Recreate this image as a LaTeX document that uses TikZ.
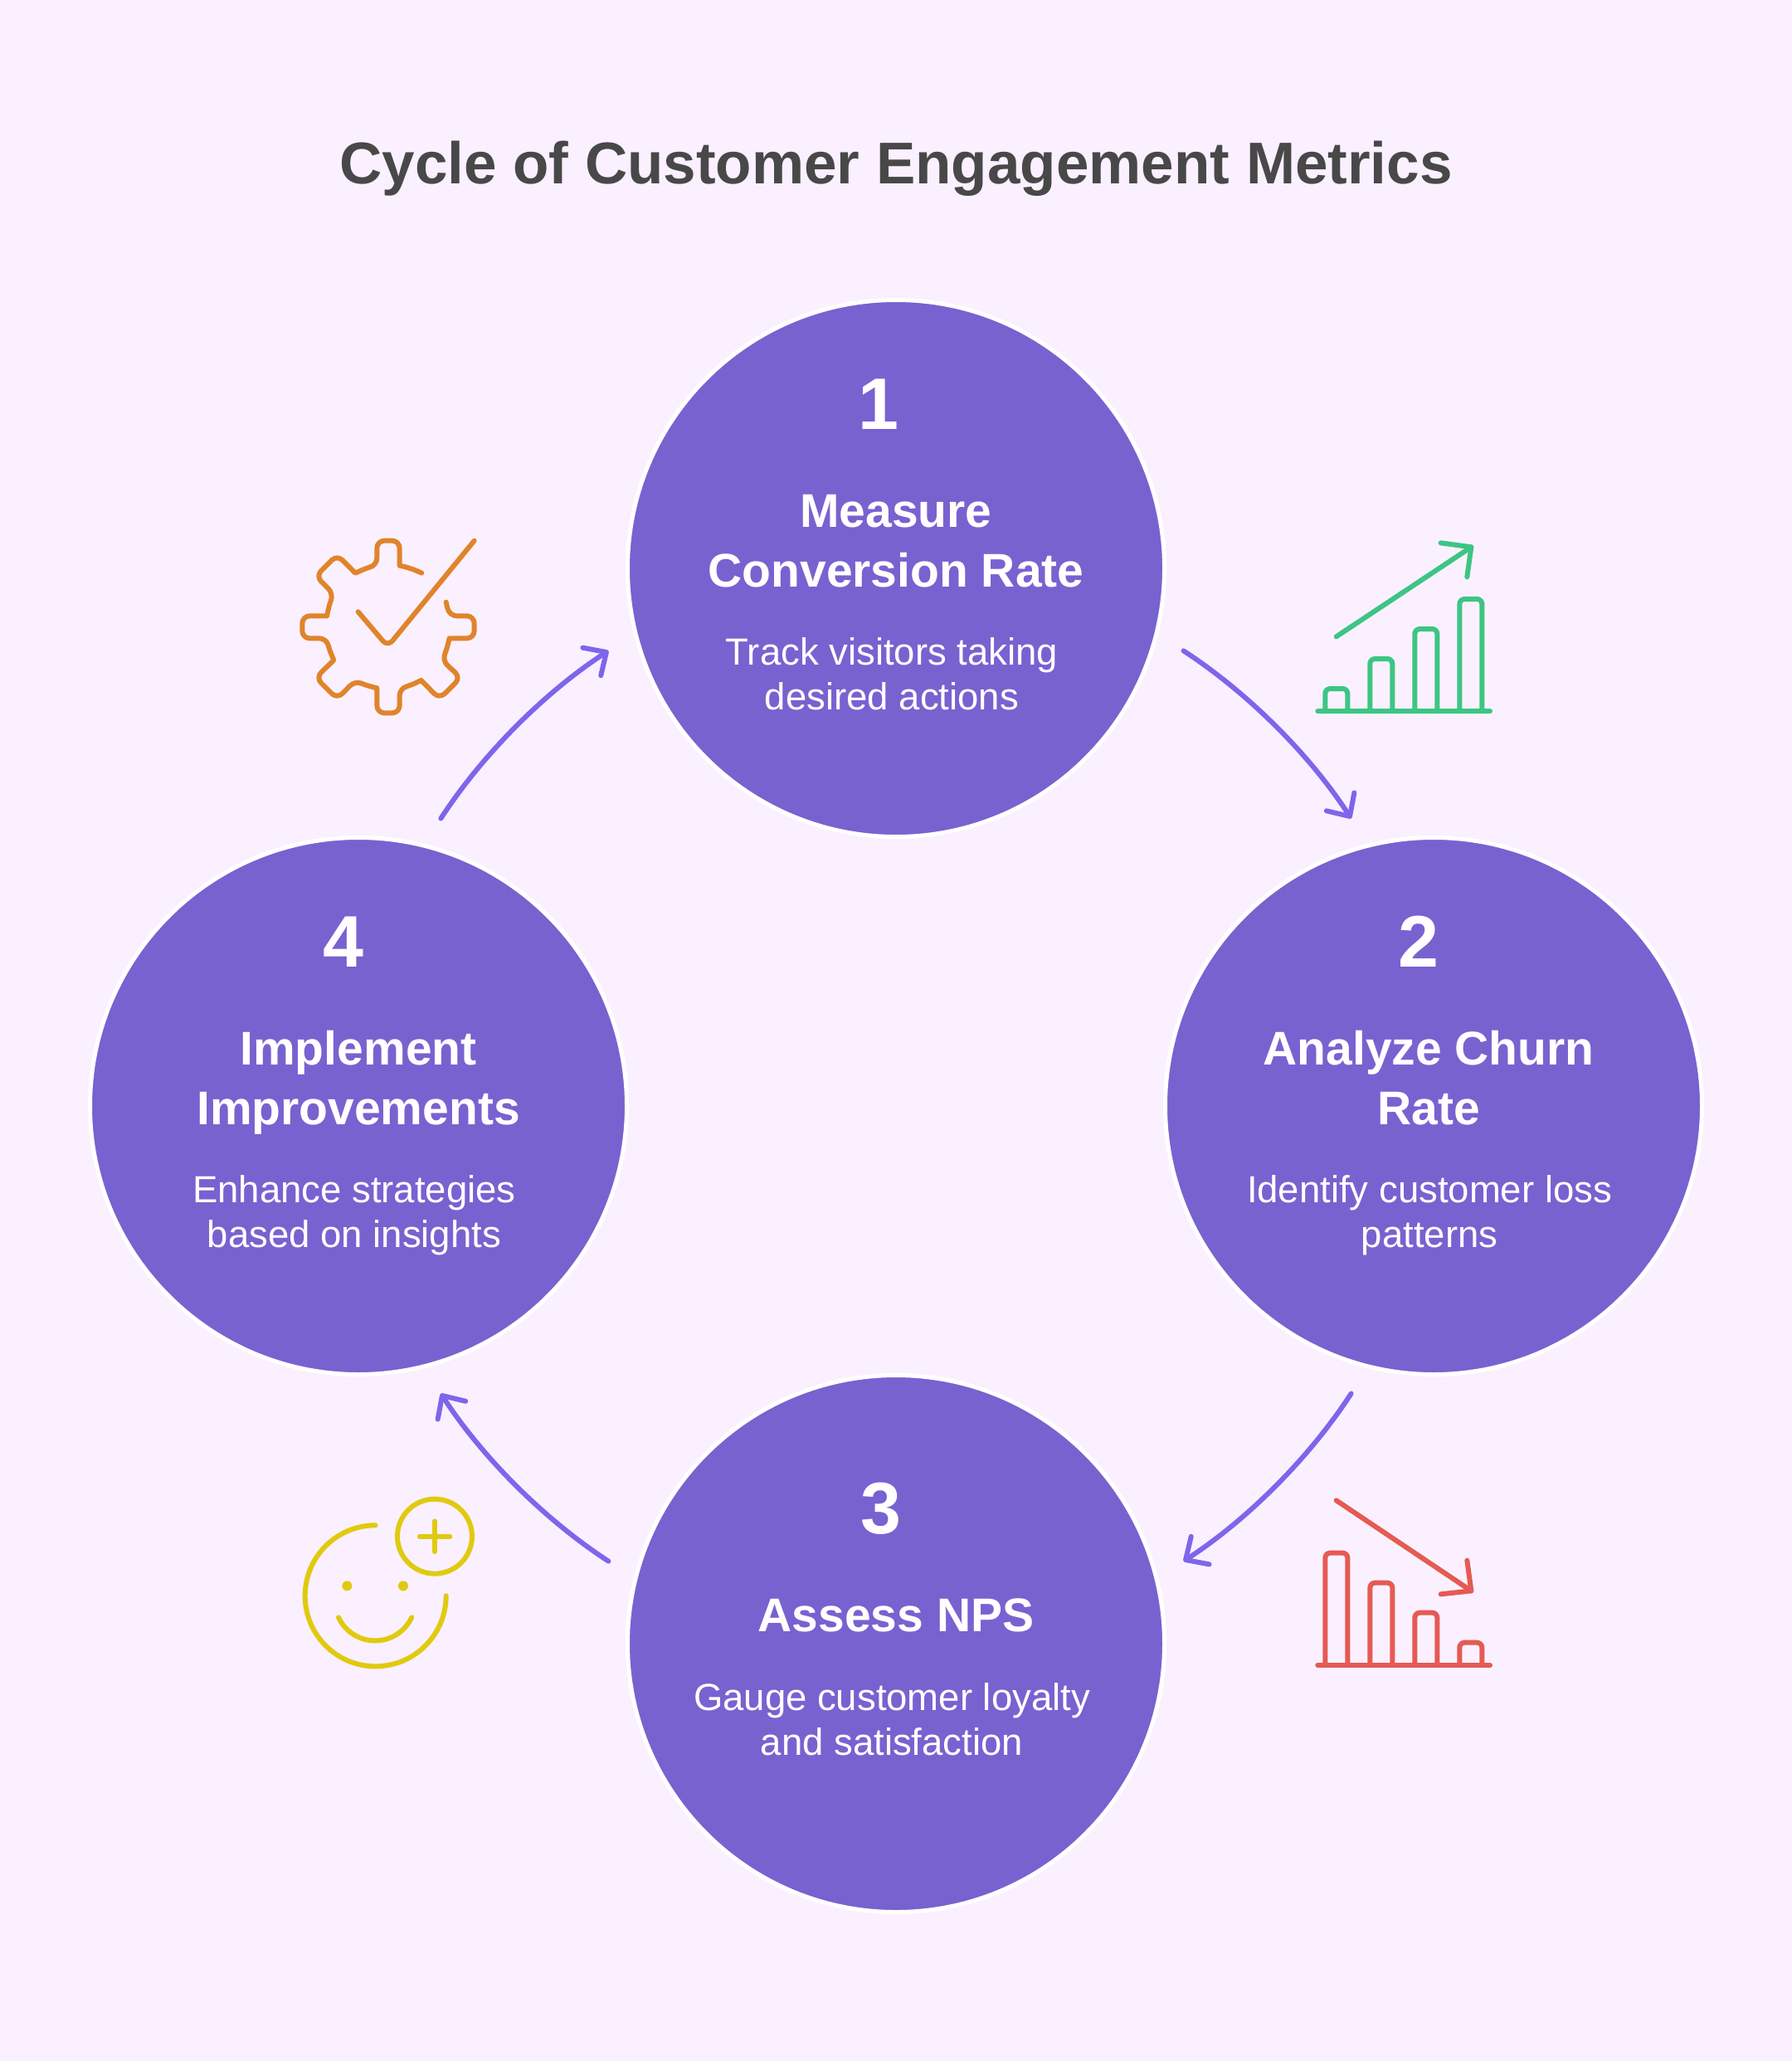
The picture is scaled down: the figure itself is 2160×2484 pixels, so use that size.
\documentclass[tikz,border=0pt]{standalone}
\usepackage{fontspec}
\setmainfont{Liberation Sans}
\usetikzlibrary{arrows.meta}
\definecolor{pagebg}{HTML}{FBF0FF}
\definecolor{circfill}{HTML}{7862D0}
\definecolor{arrowcol}{HTML}{7D66EA}
\definecolor{titlecol}{HTML}{484848}
\definecolor{gearcol}{HTML}{E0842C}
\definecolor{upcol}{HTML}{3CC583}
\definecolor{downcol}{HTML}{E55A54}
\definecolor{smilecol}{HTML}{E0CA10}
\begin{document}
\begin{tikzpicture}[x=1pt,y=-1pt]
    \tikzstyle{stage}=[circle,fill=circfill,draw=white,line width=5pt,minimum size=647pt,inner sep=0pt,outer sep=37pt]
    \tikzstyle{num}=[anchor=base,text=white,font=\fontsize{88}{88}\selectfont\bfseries]
    \tikzstyle{head}=[anchor=base,text=white,align=center,font=\fontsize{57}{72}\selectfont\bfseries]
    \tikzstyle{desc}=[anchor=base,text=white,align=center,font=\fontsize{45.5}{53.5}\selectfont]
    \tikzstyle{flow}=[draw=arrowcol,line width=6pt,line cap=round,-{Straight Barb[round,length=21pt,width=40pt]},bend left=12,looseness=.82]
    \tikzstyle{icon}=[line width=6pt,line cap=round,line join=round,x=1/3*1pt,y=-1/3*1pt]
    \fill[pagebg] (0,0) rectangle (2160,2484);
    \useasboundingbox (0,0) rectangle (2160,2484);

    \node[anchor=base,text=titlecol,font=\fontsize{71}{71}\selectfont\bfseries] (title) at (1080,221) {Cycle of Customer Engagement Metrics};

    \node[stage] (c1) at (1080,685) {};
    \node[stage] (c2) at (1728,1333) {};
    \node[stage] (c3) at (1080,1981) {};
    \node[stage] (c4) at (432,1333) {};

    \node[num] (num1) at (1059,517) {1};
    \node[head] (head1) at (1080,707) {Measure\\Conversion Rate};
    \node[desc] (desc1) at (1075,855) {Track visitors taking\\desired actions};

    \node[num] (num2) at (1710,1165) {2};
    \node[head] (head2) at (1722,1355) {Analyze Churn\\Rate};
    \node[desc] (desc2) at (1723,1503) {Identify customer loss\\patterns};

    \node[num] (num3) at (1062,1848) {3};
    \node[head] (head3) at (1080,1966) {Assess NPS};
    \node[desc] (desc3) at (1075,2115) {Gauge customer loyalty\\and satisfaction};

    \node[num] (num4) at (414,1165) {4};
    \node[head] (head4) at (432,1355) {Implement\\Improvements};
    \node[desc] (desc4) at (427,1503) {Enhance strategies\\based on insights};

    \draw[flow] (c1.-16) to (c2.106);
    \draw[flow] (c2.-106) to (c3.16);
    \draw[flow] (c3.164) to (c4.-74);
    \draw[flow] (c4.74) to (c1.196);

    % gear with check
    \begin{scope}[shift={(340,620)}]
    \draw[icon,gearcol] (505,212) to[bend right=6] (425,185)
      [rounded corners=9pt] -- (425,95) -- (343,95) -- (343,185) [sharp corners] to[bend right=6] (265,212)
      [rounded corners=9pt] -- (199,146) -- (122,223) -- (187,288) [sharp corners] to[bend right=6] (162,367)
      [rounded corners=9pt] -- (73,367) -- (73,448) -- (162,448) [sharp corners] to[bend right=6] (187,527)
      [rounded corners=9pt] -- (122,590) -- (199,667) -- (265,600) [sharp corners] to[bend right=6] (343,628)
      [rounded corners=9pt] -- (343,718) -- (425,718) -- (425,628) [sharp corners] to[bend right=6] (503,600)
      [rounded corners=9pt] -- (569,667) -- (646,590) -- (578,527) [sharp corners] to[bend right=6] (605,448)
      [rounded corners=9pt] -- (695,448) -- (695,367) -- (605,367) [sharp corners] -- (593,317);
    \draw[icon,gearcol,rounded corners=9pt] (275,352) -- (382,478) -- (695,95);
    \end{scope}

    % rising bars
    \begin{scope}[shift={(1560,620)}]
    \draw[icon,upcol] (85,712) -- (708,712);
    \foreach \xa/\ytop in {112/630,274/522,436/414,598/306}
      \draw[icon,upcol,rounded corners=6pt] (\xa,712) -- (\xa,\ytop) -- (\xa+81,\ytop) -- (\xa+81,712);
    \draw[icon,upcol] (152,442) -- (640,118);
    \draw[icon,upcol] (530,103) -- (640,118) -- (625,226);
    \end{scope}

    % falling bars
    \begin{scope}[shift={(1560,1780)}]
    \draw[icon,downcol] (85,681) -- (708,681);
    \foreach \xa/\ytop in {112/275,274/383,436/491,598/599}
      \draw[icon,downcol,rounded corners=6pt] (\xa,681) -- (\xa,\ytop) -- (\xa+81,\ytop) -- (\xa+81,681);
    \draw[icon,downcol] (152,85) -- (640,412);
    \draw[icon,downcol] (625,302) -- (640,412) -- (530,424);
    \end{scope}

    % smiley with plus
    \begin{scope}[shift={(340,1780)}]
    \draw[icon,smilecol] (338,175) arc[start angle=270,end angle=0,radius=255];
    \fill[icon,smilecol] (235,394) circle[radius=18];
    \fill[icon,smilecol] (438,394) circle[radius=18];
    \draw[icon,smilecol] (204,508) arc[start angle=155,end angle=25,radius=146];
    \draw[icon,smilecol] (552,215) circle[radius=135];
    \draw[icon,smilecol] (498,215) -- (607,215);
    \draw[icon,smilecol] (552,160) -- (552,270);
    \end{scope}
\end{tikzpicture}
\end{document}
